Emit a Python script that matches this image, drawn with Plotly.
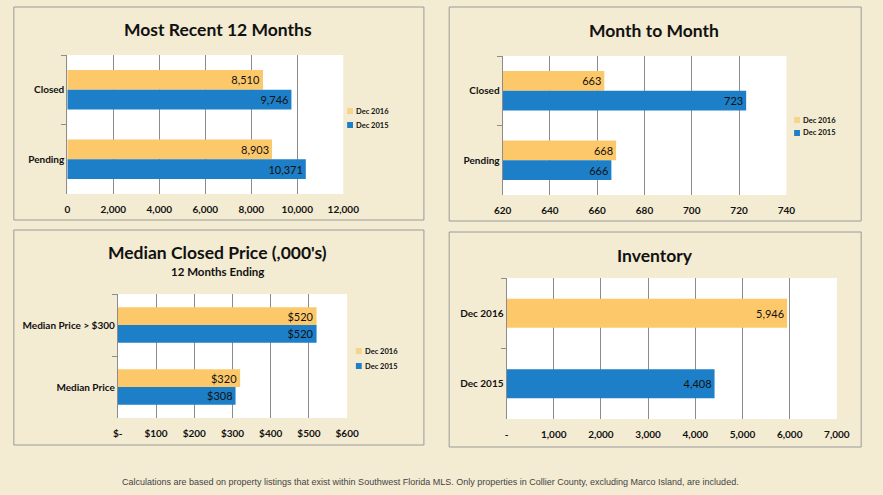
import plotly.graph_objects as go

W, H = 883, 495

# ---------------- data ----------------
series_names = ["Dec 2016", "Dec 2015"]

p1_title = "Most Recent 12 Months"
p1_categories = ["Closed", "Pending"]
p1_dec2016 = [8510, 8903]
p1_dec2015 = [9746, 10371]
p1_ticks = [0, 2000, 4000, 6000, 8000, 10000, 12000]
p1_ticklabels = ["0", "2,000", "4,000", "6,000", "8,000", "10,000", "12,000"]

p2_title = "Month to Month"
p2_categories = ["Closed", "Pending"]
p2_dec2016 = [663, 668]
p2_dec2015 = [723, 666]
p2_ticks = [620, 640, 660, 680, 700, 720, 740]
p2_ticklabels = ["620", "640", "660", "680", "700", "720", "740"]

p3_title = "Median Closed Price (,000's)"
p3_subtitle = "12 Months Ending"
p3_categories = ["Median Price > $300", "Median Price"]
p3_dec2016 = [520, 320]
p3_dec2015 = [520, 308]
p3_ticks = [0, 100, 200, 300, 400, 500, 600]
p3_ticklabels = ["$-", "$100", "$200", "$300", "$400", "$500", "$600"]

p4_title = "Inventory"
p4_categories = ["Dec 2016", "Dec 2015"]
p4_values = [5946, 4408]
p4_ticks = [0, 1000, 2000, 3000, 4000, 5000, 6000, 7000]
p4_ticklabels = ["-", "1,000", "2,000", "3,000", "4,000", "5,000", "6,000", "7,000"]

footer = ("Calculations are based on property listings that exist within Southwest Florida MLS. "
          "Only properties in Collier County, excluding Marco Island, are included.")

# ---------------- style ----------------
BG = "#F3EBD2"
ORANGE = "#FDC86A"
BLUE = "#1C7FC7"
LEG_ORANGE = "#F3D68A"
GRID = "#8C8C8C"
BORDER = "#9A9A9A"
FONT = "Lato"
colors = [ORANGE, BLUE]


def px(x):
    return x / W


def py(y):
    return 1 - y / H


fig = go.Figure()

panels = [
    ("", p1_categories, [p1_dec2016, p1_dec2015], "%{x:,}", p1_ticks, p1_ticklabels, [0, 12000], (60, 344), (55, 194)),
    ("2", p2_categories, [p2_dec2016, p2_dec2015], "%{x}", p2_ticks, p2_ticklabels, [620, 740], (508, 800), (56, 195)),
    ("3", p3_categories, [p3_dec2016, p3_dec2015], "$%{x}", p3_ticks, p3_ticklabels, [0, 600], (112, 348), (294, 418)),
]

TICKFONT = dict(family=FONT, size=10, color="#111111", weight="bold")
CATFONT = dict(family=FONT, size=10, color="#111111", weight="bold")

layout_axes = {}
for suf, cats, series, tt, ticks, tlabels, rng, xd, yd in panels:
    for name, vals, col in zip(series_names, series, colors):
        fig.add_trace(go.Bar(
            y=cats, x=vals, name=name, orientation="h",
            marker=dict(color=col, line=dict(width=0)),
            texttemplate=tt, textposition="inside", insidetextanchor="end",
            textangle=0, constraintext="none",
            textfont=dict(family=FONT, size=11, color="#111111"),
            xaxis="x" + suf, yaxis="y" + suf, showlegend=False,
        ))
    layout_axes["xaxis" + suf] = dict(
        domain=[px(xd[0]), px(xd[1])], anchor="y" + suf, range=rng,
        tickvals=ticks, ticktext=tlabels, showgrid=True, gridcolor=GRID, gridwidth=1,
        zeroline=False, showline=False, ticks="outside", ticklen=6, tickcolor="rgba(0,0,0,0)",
        tickfont=TICKFONT, fixedrange=True,
    )
    layout_axes["yaxis" + suf] = dict(
        domain=[py(yd[1]), py(yd[0])], anchor="x" + suf, autorange="reversed",
        showline=True, linecolor=GRID, linewidth=1, ticks="outside", tickson="boundaries",
        ticklen=5, tickcolor=GRID, showgrid=False, zeroline=False,
        tickfont=CATFONT, fixedrange=True,
    )

# Inventory panel
fig.add_trace(go.Bar(
    y=p4_categories, x=p4_values, orientation="h", name="Inventory",
    marker=dict(color=[ORANGE, BLUE], line=dict(width=0)),
    width=0.41, offset=-0.205,
    texttemplate="%{x:,}", textposition="inside", insidetextanchor="end",
    textangle=0, constraintext="none",
    textfont=dict(family=FONT, size=11, color="#111111"),
    xaxis="x4", yaxis="y4", showlegend=False,
))
layout_axes["xaxis4"] = dict(
    domain=[px(512), px(852)], anchor="y4", range=[0, 7000],
    tickvals=p4_ticks, ticktext=p4_ticklabels, showgrid=True, gridcolor=GRID, gridwidth=1,
    zeroline=False, showline=False, ticks="outside", ticklen=6, tickcolor="rgba(0,0,0,0)",
    tickfont=TICKFONT, fixedrange=True,
)
layout_axes["yaxis4"] = dict(
    domain=[py(419), py(278)], anchor="x4", autorange="reversed",
    showline=True, linecolor=GRID, linewidth=1, ticks="outside", tickson="boundaries",
    ticklen=5, tickcolor=GRID, showgrid=False, zeroline=False,
    tickfont=CATFONT, fixedrange=True,
)

shapes = []
annotations = []

# panel borders
for x0, y0, x1, y1 in [(5, 7, 427, 220), (453, 7, 877, 221), (5, 230, 427, 445), (453, 232, 877, 447)]:
    shapes.append(dict(type="rect", xref="paper", yref="paper",
                       x0=px(x0), x1=px(x1), y0=py(y1), y1=py(y0),
                       line=dict(color=BORDER, width=1), fillcolor="rgba(0,0,0,0)", layer="below"))

# titles
for text, cx, cy, size in [(p1_title, 215, 30, 17.5), (p2_title, 664, 31, 17.5),
                           (p3_title, 215, 253, 17.5), (p3_subtitle, 215, 271, 11.5),
                           (p4_title, 665, 255, 17.5)]:
    annotations.append(dict(text=text, x=px(cx), y=py(cy), xref="paper", yref="paper",
                            xanchor="center", yanchor="middle", showarrow=False,
                            font=dict(family=FONT, size=size, color="#111111", weight="bold")))

# legends (small swatches)
leg_colors = [LEG_ORANGE, BLUE]
for lx, ly1, ly2 in [(348, 111, 125), (808, 120, 133), (357, 351, 366)]:
    for name, col, ly in zip(series_names, leg_colors, [ly1, ly2]):
        shapes.append(dict(type="rect", xref="paper", yref="paper",
                           x0=px(lx), x1=px(lx + 6), y0=py(ly + 3), y1=py(ly - 3),
                           line=dict(width=0), fillcolor=col))
        annotations.append(dict(text=name, x=px(lx + 7), y=py(ly), xref="paper", yref="paper",
                                xanchor="left", yanchor="middle", showarrow=False,
                                font=dict(family=FONT, size=7.5, color="#111111", weight="bold")))

annotations.append(dict(text=footer, x=px(434), y=py(482), xref="paper", yref="paper",
                        xanchor="center", yanchor="middle", showarrow=False,
                        font=dict(family="Liberation Sans, Arial", size=9, color="#444444")))

fig.update_layout(
    width=W, height=H, margin=dict(l=0, r=0, t=0, b=0),
    paper_bgcolor=BG, plot_bgcolor="white",
    barmode="group", bargap=0.43, bargroupgap=0,
    showlegend=False, shapes=shapes, annotations=annotations,
    font=dict(family=FONT, color="#111111"),
    **layout_axes,
)

page_css = (
    "var s=document.documentElement.style, b=document.body.style;"
    "s.margin='0'; s.padding='0'; s.overflow='hidden'; s.background='" + BG + "';"
    "b.margin='0'; b.padding='0'; b.overflow='hidden'; b.background='" + BG + "';"
)
fig.write_html("out.html", config={"displayModeBar": False}, post_script=page_css)
